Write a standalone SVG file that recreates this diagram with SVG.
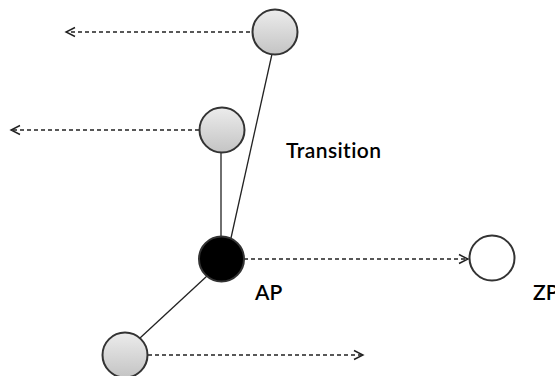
<svg xmlns="http://www.w3.org/2000/svg" width="555" height="376" viewBox="0 0 555 376">
<defs>
<linearGradient id="g" x1="0" y1="0" x2="0" y2="1">
<stop offset="0" stop-color="#ececec"/>
<stop offset="1" stop-color="#c4c4c4"/>
</linearGradient>
<marker id="ah" markerWidth="12" markerHeight="12" refX="10" refY="6" orient="auto" markerUnits="userSpaceOnUse">
<path d="M1,1.5 L10,6 L1,10.5" fill="none" stroke="#222" stroke-width="1.4"/>
</marker>
<style>
.n{stroke:#333;stroke-width:2}
.g{fill:url(#g)}
.d{stroke:#222;stroke-width:1.4;stroke-dasharray:4,3;fill:none}
.l{stroke:#222;stroke-width:1.3;fill:none}
.t{font-family:"Lato","Liberation Sans",sans-serif;font-size:21px;font-weight:600;fill:#000;font-variant-ligatures:none}
</style>
</defs>
<rect width="555" height="376" fill="#fff"/>
<g id="connectors">
<line class="d" x1="250" y1="32" x2="66" y2="32" marker-end="url(#ah)"/>
<line class="d" x1="199" y1="130" x2="11" y2="130" marker-end="url(#ah)"/>
<line class="d" x1="244" y1="259" x2="468" y2="259" marker-end="url(#ah)"/>
<line class="d" x1="148" y1="355" x2="363" y2="355" marker-end="url(#ah)"/>
<line class="l" x1="272" y1="54" x2="231" y2="238"/>
<line class="l" x1="221" y1="152" x2="221" y2="237"/>
<line class="l" x1="207" y1="276" x2="140" y2="338"/>
</g>
<g id="n1"><circle class="n g" cx="275" cy="32" r="22.5"/></g>
<g id="n2"><circle class="n g" cx="222" cy="130" r="22.5"/></g>
<g id="AP"><circle class="n" cx="221.5" cy="259" r="22.5" fill="#000"/><text class="t" x="255" y="300">AP</text></g>
<g id="n4"><circle class="n g" cx="125" cy="355" r="22.5"/></g>
<g id="ZP"><circle class="n" cx="492" cy="258" r="22.5" fill="#fff"/><text class="t" x="533" y="300">ZP</text></g>
<g id="label"><text class="t" x="286" y="158" textLength="95">Transition</text></g>
</svg>
